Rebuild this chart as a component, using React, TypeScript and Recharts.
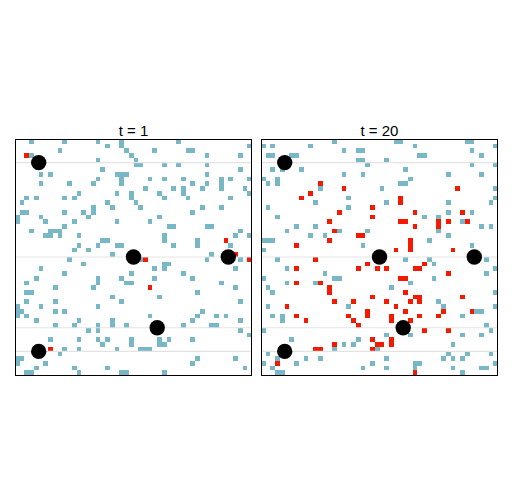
import { ScatterChart, Scatter, XAxis, YAxis, ReferenceArea, ReferenceLine } from 'recharts'

// grid is 50 x 50 cells, [col, row] with row 0 at the top
const gridSize = 50
const titles = ['t = 1', 't = 20']
const sites = [
  { x: 5, y: 5 }, { x: 25, y: 25 }, { x: 45, y: 25 }, { x: 30, y: 40 }, { x: 5, y: 45 },
]
const gridRows = [5, 25, 40, 45]

const t1Teal: [number, number][] = [
  [3, 0], [10, 0], [17, 0], [22, 0], [34, 0], [22, 1], [19, 1], [49, 1], [9, 2], [23, 2], [29, 2], [36, 2], [37, 2],
  [3, 3], [24, 3], [40, 3], [47, 3], [17, 4], [25, 4], [25, 5], [26, 5], [31, 5], [34, 5], [40, 5], [18, 6], [47, 6],
  [5, 7], [7, 7], [21, 7], [22, 7], [23, 7], [40, 7], [22, 8], [17, 8], [28, 8], [31, 8], [35, 8], [43, 8], [45, 8], [49, 8],
  [22, 9], [5, 9], [11, 9], [16, 9], [37, 9], [40, 9], [43, 9], [43, 10], [27, 10], [33, 10], [35, 10], [39, 10], [48, 10],
  [13, 11], [21, 11], [24, 11], [35, 11], [30, 11], [49, 11], [24, 12], [2, 12], [4, 12], [10, 12], [12, 12], [31, 12], [36, 12], [45, 12],
  [1, 13], [19, 13], [25, 13], [16, 14], [20, 14], [26, 14], [39, 14], [43, 14], [16, 15], [1, 15], [2, 15], [10, 15], [14, 15], [37, 15],
  [0, 16], [5, 16], [15, 16], [30, 16], [0, 17], [6, 17], [12, 17], [21, 17], [28, 17], [10, 18], [32, 18], [33, 18], [40, 18], [41, 18],
  [3, 19], [7, 19], [8, 19], [9, 19], [47, 19], [6, 20], [7, 20], [9, 20], [13, 20], [31, 20], [46, 20], [49, 20],
  [18, 21], [19, 21], [31, 21], [38, 21], [13, 22], [17, 22], [21, 22], [22, 22], [33, 22], [38, 22], [45, 22],
  [12, 23], [15, 23], [20, 24], [41, 24],
  [11, 25], [26, 25], [40, 25], [47, 25], [14, 26], [31, 26], [32, 26], [5, 27], [29, 27], [31, 27], [46, 27],
  [10, 28], [24, 28], [35, 28], [4, 29], [17, 29], [22, 29], [29, 29], [37, 29], [2, 30], [17, 30], [23, 30], [24, 30], [43, 30],
  [8, 31], [16, 31], [46, 31], [2, 32], [3, 32], [38, 32], [20, 33], [30, 33], [2, 34], [8, 34], [22, 34], [47, 34],
  [0, 35], [5, 35], [17, 35], [0, 36], [1, 36], [8, 36], [10, 36], [39, 36], [0, 37], [2, 37], [28, 37], [38, 37], [42, 37], [44, 37],
  [4, 38], [13, 38], [20, 38], [37, 38], [47, 38], [8, 39], [12, 39], [17, 39], [20, 39], [23, 39], [35, 39], [41, 39], [42, 39],
  [15, 40], [17, 40], [47, 40], [49, 41], [7, 42], [13, 42], [17, 42], [19, 42], [24, 42], [30, 42], [32, 42], [37, 42],
  [18, 43], [24, 43], [30, 43], [31, 43], [10, 44], [13, 44], [21, 44], [26, 44], [27, 44], [28, 44], [9, 45],
  [0, 46], [1, 46], [38, 46], [46, 46], [0, 47], [6, 47], [37, 47], [4, 48], [12, 48], [19, 48], [48, 48],
  [2, 49], [3, 49], [13, 49], [22, 49], [23, 49], [31, 49],
]
const t1Red: [number, number][] = [
  [2, 3], [44, 21], [46, 24], [27, 25], [49, 25], [28, 31], [7, 44],
]

const t20Teal: [number, number][] = [
  [15, 0], [28, 0], [29, 0], [43, 0], [44, 0], [0, 1], [2, 1], [10, 1], [32, 1], [49, 1], [17, 2], [20, 2], [21, 2], [44, 2],
  [1, 3], [2, 3], [6, 3], [7, 3], [33, 3], [34, 3], [46, 3], [20, 4], [21, 4], [26, 4], [22, 5], [44, 5], [49, 5],
  [2, 6], [4, 6], [8, 6], [30, 6], [17, 7], [21, 7], [39, 7], [46, 7], [0, 8], [3, 8], [31, 8], [1, 9], [3, 9], [29, 9], [30, 9],
  [12, 10], [25, 10], [49, 10], [18, 12], [49, 12], [11, 13], [26, 13], [39, 13], [48, 13], [1, 14], [18, 14],
  [39, 15], [44, 15], [3, 16], [34, 16], [37, 16], [42, 17], [7, 18], [11, 18], [46, 18], [48, 18],
  [5, 19], [16, 19], [22, 19], [37, 19], [10, 20], [13, 20], [39, 20], [0, 21], [1, 21], [2, 21], [35, 21],
  [21, 22], [44, 22], [0, 23],
  [3, 25], [30, 25], [35, 25], [47, 25], [36, 26], [5, 27], [49, 27], [13, 28], [47, 28], [0, 29], [15, 29], [16, 29], [36, 29],
  [5, 30], [11, 30], [31, 30], [1, 31], [27, 31], [2, 32], [49, 32], [37, 34], [1, 35], [18, 35], [38, 35], [49, 35],
  [45, 36], [46, 36], [2, 37], [4, 37], [42, 37], [4, 38], [47, 39], [0, 40], [48, 40], [26, 41], [31, 41], [42, 41], [46, 41],
  [6, 42], [20, 42], [17, 43], [19, 43], [40, 43], [15, 44], [24, 44], [1, 45], [39, 45], [43, 45], [48, 45],
  [3, 46], [9, 46], [12, 46], [26, 46], [38, 46], [40, 46], [42, 46], [0, 47], [7, 47], [23, 47], [32, 47], [33, 47], [49, 47],
  [2, 48], [21, 48], [26, 48], [32, 48], [40, 48], [46, 48], [47, 48], [3, 49], [4, 49], [42, 49],
]
const t20Red: [number, number][] = [
  [12, 9], [17, 10], [41, 10], [10, 11], [8, 12], [29, 12], [29, 13], [23, 14], [16, 15], [32, 15], [42, 15], [23, 16],
  [14, 17], [29, 17], [30, 17], [37, 17], [39, 17], [43, 17], [37, 18], [32, 18], [15, 19], [20, 20], [21, 20], [14, 21], [31, 21],
  [7, 22], [31, 22], [28, 23], [31, 23], [40, 23],
  [11, 25], [22, 26], [34, 26], [7, 27], [20, 27], [24, 27], [26, 27], [32, 27], [33, 27], [39, 28], [29, 29], [30, 29],
  [7, 30], [12, 30], [14, 31], [14, 32], [30, 32], [23, 33], [32, 33], [33, 33], [42, 33], [15, 34], [19, 34], [26, 34], [31, 34], [33, 34],
  [5, 35], [28, 35], [22, 36], [30, 36], [38, 36], [44, 36], [7, 37], [18, 37], [22, 37], [27, 37], [33, 37], [37, 37],
  [9, 38], [19, 38], [27, 38], [31, 38], [20, 39], [34, 40], [39, 40], [23, 42], [27, 42], [15, 43], [24, 43], [25, 43], [27, 43],
  [11, 44], [12, 44], [23, 44], [3, 47], [32, 49],
]

const panels = [
  { title: titles[0], teal: t1Teal, red: t1Red, left: 8 },
  { title: titles[1], teal: t20Teal, red: t20Red, left: 254 },
]

const TEAL = '#78B7C5'
const RED = '#F21A00'

function Panel({ title, teal, red, left }: { title: string; teal: [number, number][]; red: [number, number][]; left: number }) {
  const cells = [
    ...teal.map(([c, r]) => ({ c, r, fill: TEAL })),
    ...red.map(([c, r]) => ({ c, r, fill: RED })),
  ]
  return (
    <>
      <div style={{
        position: 'absolute', left: left + 7, top: 123, width: 237, textAlign: 'center',
        fontFamily: '"Liberation Sans", Arial, sans-serif', fontSize: 15, lineHeight: '15px', color: '#000',
      }}>{title}</div>
      <div style={{ position: 'absolute', left, top: 110 }}>
        <ScatterChart width={250} height={280} margin={{ top: 29, right: 6, bottom: 15, left: 7 }}>
          <XAxis type="number" dataKey="x" domain={[0, gridSize]} hide allowDataOverflow />
          <YAxis type="number" dataKey="y" domain={[0, gridSize]} reversed hide allowDataOverflow />
          {gridRows.map((y) => (
            <ReferenceLine key={'g' + y} y={y} stroke="#e3e3e3" strokeWidth={1.1} />
          ))}
          {cells.map((d, i) => (
            <ReferenceArea key={i} x1={d.c} x2={d.c + 1} y1={d.r} y2={d.r + 1}
              fill={d.fill} fillOpacity={1} stroke="none" shapeRendering="crispEdges" />
          ))}
          <Scatter data={sites} isAnimationActive={false}
            shape={(p: any) => <circle cx={p.cx} cy={p.cy} r={7.7} fill="#000" />} />
        </ScatterChart>
      </div>
      <div style={{
        position: 'absolute', left: left + 7, top: 139, width: 237, height: 237,
        border: '1px solid #000', boxSizing: 'border-box', pointerEvents: 'none',
      }} />
    </>
  )
}

export default function App() {
  return (
    <div style={{ position: 'relative', width: 514, height: 496, margin: -8, background: '#fff' }}>
      {panels.map((p) => <Panel key={p.title} {...p} />)}
    </div>
  )
}
